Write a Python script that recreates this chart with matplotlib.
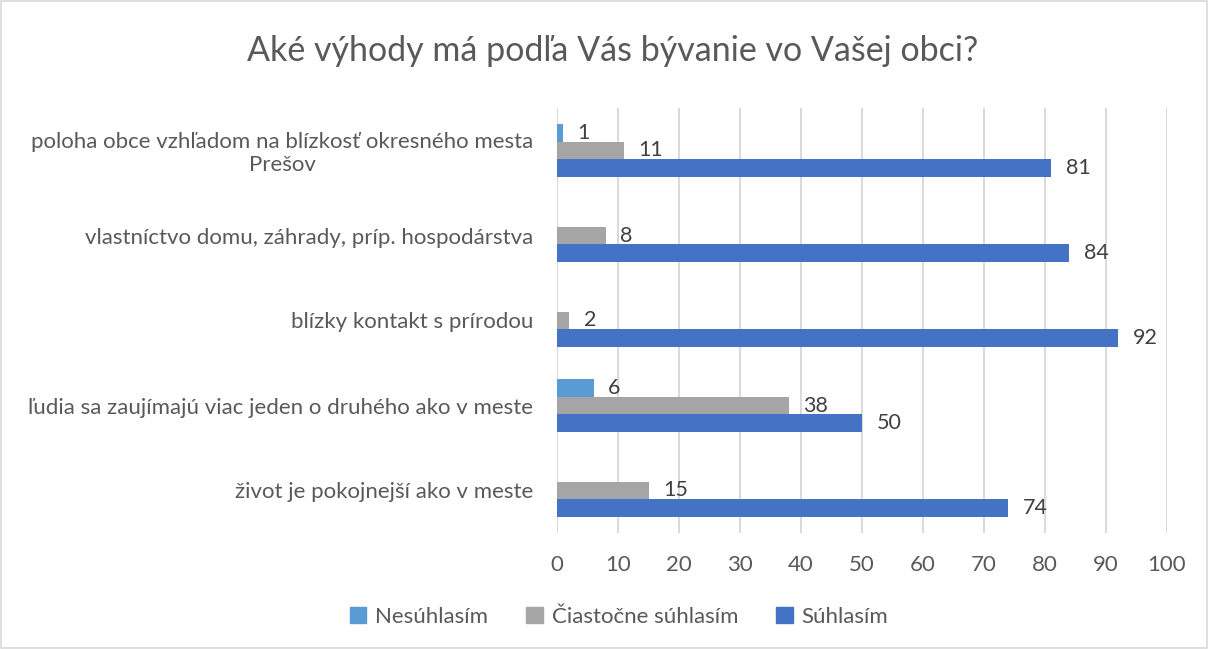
import matplotlib
matplotlib.use("Agg")
import matplotlib.pyplot as plt
import numpy as np
from matplotlib.patches import Rectangle

categories = [
    "poloha obce vzhľadom na blízkosť okresného mesta\nPrešov",
    "vlastníctvo domu, záhrady, príp. hospodárstva",
    "blízky kontakt s prírodou",
    "ľudia sa zaujímajú viac jeden o druhého ako v meste",
    "život je pokojnejší ako v meste",
]
series_names = ["Nesúhlasím", "Čiastočne súhlasím", "Súhlasím"]
nesuhlasim = [1, None, None, 6, None]
ciastocne = [11, 8, 2, 38, 15]
suhlasim = [81, 84, 92, 50, 74]
colors = ["#5B9BD5", "#A5A5A5", "#4472C4"]
xticks = [0, 10, 20, 30, 40, 50, 60, 70, 80, 90, 100]
title = "Aké výhody má podľa Vás bývanie vo Vašej obci?"

plt.rcParams['font.family'] = ['Lato', 'DejaVu Sans']
txt = "#595959"

fig = plt.figure(figsize=(12.08, 6.49), dpi=100)
fig.patches.append(Rectangle((0.001, 0.001), 0.998, 0.998, transform=fig.transFigure,
                             fill=False, edgecolor="#D9D9D9", linewidth=1.2))
ax = fig.add_axes([557/1208, 1-533/649, 610/1208, 425/649])

n = len(categories)
ypos = np.arange(n)[::-1].astype(float)
h = 0.206
all_series = [nesuhlasim, ciastocne, suhlasim]
offsets = [h, 0, -h]
for vals, col, off in zip(all_series, colors, offsets):
    for i, v in enumerate(vals):
        if v is None:
            continue
        ax.barh(ypos[i] + off, v, height=h, color=col, zorder=3)
        ax.text(v + 2.4, ypos[i] + off, str(v), va="center", ha="left",
                fontsize=15.5, color="#404040", zorder=4)

ax.set_xlim(0, 100)
ax.set_ylim(-0.5, n - 0.5)
ax.set_xticks(xticks)
ax.set_xticklabels([str(t) for t in xticks], fontsize=16, color=txt)
ax.set_yticks(ypos)
ax.set_yticklabels(categories, fontsize=16, color=txt, multialignment="center",
                   linespacing=1.15)
ax.tick_params(axis="both", length=0)
ax.tick_params(axis="y", pad=17)
ax.tick_params(axis="x", pad=16)
ax.grid(axis="x", color="#D9D9D9", linewidth=1.4, zorder=0)
for sp in ax.spines.values():
    sp.set_visible(False)

fig.text(613/1208, 1-51/649, title, ha="center", va="center", fontsize=24.5, color=txt)

handles = [Rectangle((0, 0), 1, 1, color=c) for c in colors]
fig.legend(handles, series_names, loc="center", bbox_to_anchor=(619/1208, 1-617/649),
           ncol=3, frameon=False, fontsize=16, labelcolor=txt, handlelength=0.75,
           handleheight=0.75, handletextpad=0.4, columnspacing=1.7)

fig.savefig("out.png", dpi=100)
